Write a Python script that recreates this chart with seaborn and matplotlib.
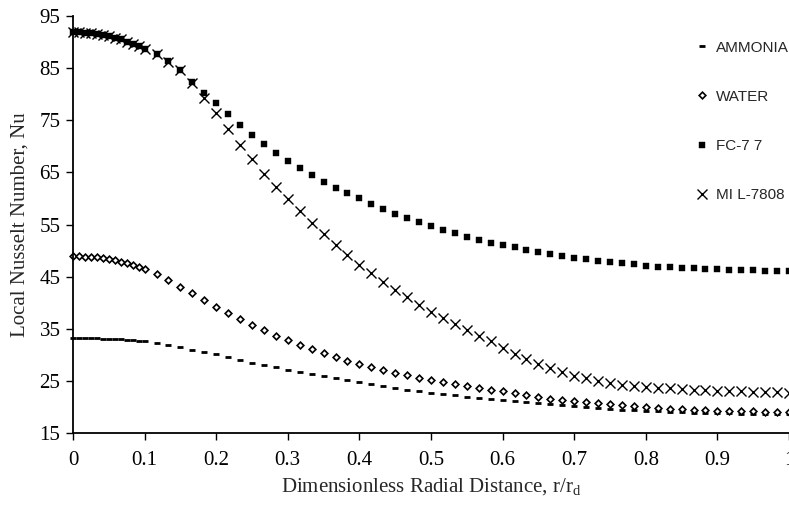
import numpy as np
import pandas as pd
import matplotlib
matplotlib.use("Agg")
import matplotlib.pyplot as plt
import seaborn as sns

# ---- data ----
x_dense = [0.0, 0.0083, 0.0167, 0.025, 0.0333, 0.0417, 0.05, 0.0583, 0.0667, 0.075, 0.0833, 0.0917]
x_sparse = [0.1, 0.1167, 0.1333, 0.15, 0.1667, 0.1833, 0.2, 0.2167, 0.2333, 0.25,
            0.2667, 0.2833, 0.3, 0.3167, 0.3333, 0.35, 0.3667, 0.3833, 0.4, 0.4167,
            0.4333, 0.45, 0.4667, 0.4833, 0.5, 0.5167, 0.5333, 0.55, 0.5667, 0.5833,
            0.6, 0.6167, 0.6333, 0.65, 0.6667, 0.6833, 0.7, 0.7167, 0.7333, 0.75,
            0.7667, 0.7833, 0.8, 0.8167, 0.8333, 0.85, 0.8667, 0.8833, 0.9, 0.9167,
            0.9333, 0.95, 0.9667, 0.9833, 1.0]
r_rd = x_dense + x_sparse

ammonia = [33.2, 33.2, 33.2, 33.2, 33.15, 33.1, 33.1, 33.0, 33.0, 32.9, 32.8, 32.7,
           32.6, 32.2, 31.9, 31.5, 31.0, 30.5, 30.1, 29.6, 29.0, 28.5,
           28.0, 27.6, 27.1, 26.7, 26.3, 25.9, 25.5, 25.2, 24.8, 24.4,
           24.0, 23.6, 23.3, 23.0, 22.7, 22.5, 22.2, 21.9, 21.7, 21.5,
           21.3, 21.1, 20.9, 20.7, 20.5, 20.3, 20.1, 19.9, 19.8, 19.6,
           19.5, 19.4, 19.3, 19.2, 19.1, 19.0, 18.9, 18.9, 18.8, 18.8,
           18.7, 18.7, 18.7, 18.6, 18.6]
water = [48.9, 48.9, 48.85, 48.8, 48.7, 48.6, 48.4, 48.2, 47.9, 47.6, 47.3, 46.9,
         46.5, 45.5, 44.3, 43.1, 41.8, 40.5, 39.2, 38.0, 36.9, 35.8,
         34.7, 33.7, 32.8, 31.9, 31.1, 30.3, 29.6, 28.9, 28.3, 27.7,
         27.1, 26.6, 26.1, 25.6, 25.2, 24.8, 24.4, 24.0, 23.6, 23.3,
         23.0, 22.6, 22.2, 21.9, 21.6, 21.3, 21.1, 20.9, 20.7, 20.5,
         20.3, 20.1, 20.0, 19.8, 19.7, 19.6, 19.5, 19.4, 19.3, 19.3,
         19.2, 19.2, 19.1, 19.1, 19.0]
fc77 = [91.9, 91.88, 91.8, 91.7, 91.5, 91.3, 91.1, 90.8, 90.5, 90.1, 89.7, 89.2,
        88.7, 87.7, 86.3, 84.7, 82.4, 80.2, 78.3, 76.2, 74.1, 72.2,
        70.4, 68.7, 67.2, 65.8, 64.5, 63.2, 62.0, 61.0, 60.0, 58.9,
        58.0, 57.1, 56.3, 55.5, 54.7, 54.0, 53.3, 52.6, 52.0, 51.5,
        51.0, 50.6, 50.1, 49.7, 49.3, 48.9, 48.6, 48.3, 48.0, 47.8,
        47.6, 47.4, 47.1, 46.9, 46.8, 46.7, 46.6, 46.5, 46.4, 46.3,
        46.3, 46.2, 46.1, 46.1, 46.0]
mil7808 = [91.9, 91.88, 91.8, 91.7, 91.5, 91.3, 91.1, 90.8, 90.5, 90.1, 89.7, 89.2,
           88.7, 87.7, 86.2, 84.6, 82.2, 79.3, 76.4, 73.3, 70.3, 67.5,
           64.7, 62.2, 59.8, 57.5, 55.3, 53.2, 51.1, 49.1, 47.3, 45.6,
           44.0, 42.5, 41.0, 39.6, 38.3, 37.1, 35.9, 34.8, 33.7, 32.6,
           31.3, 30.2, 29.2, 28.3, 27.5, 26.7, 26.0, 25.5, 25.0, 24.6,
           24.3, 24.0, 23.8, 23.7, 23.6, 23.4, 23.3, 23.2, 23.1, 23.0,
           23.0, 22.9, 22.8, 22.8, 22.7]

series_names = ["AMMONIA", "WATER", "FC-7 7", "MI L-7808"]
x_ticks = [0, 0.1, 0.2, 0.3, 0.4, 0.5, 0.6, 0.7, 0.8, 0.9, 1.0]
x_tick_labels = ["0", "0.1", "0.2", "0.3", "0.4", "0.5", "0.6", "0.7", "0.8", "0.9", "1"]
y_ticks = [15, 25, 35, 45, 55, 65, 75, 85, 95]

# ---- style ----
sns.set_style("white")
plt.rcParams["font.family"] = ["Liberation Serif", "DejaVu Serif"]
plt.rcParams["mathtext.fontset"] = "custom"
plt.rcParams["mathtext.rm"] = "Liberation Serif"

fig = plt.figure(figsize=(7.89, 5.08), dpi=100)
ax = fig.add_axes([73 / 789, 75 / 508, 716 / 789, 417 / 508])

styles = [
    dict(marker="_", markersize=5, markeredgewidth=2.0, color="black",
         markeredgecolor="black"),
    dict(marker="D", markersize=3.4, markeredgewidth=1.2, markerfacecolor="white",
         markeredgecolor="black", color="black"),
    dict(marker="s", markersize=4.5, markeredgewidth=0.3, color="black",
         markeredgecolor="black"),
    dict(marker="x", markersize=7.5, markeredgewidth=1.0, color="black",
         markeredgecolor="black"),
]

all_vals = [ammonia, water, fc77, mil7808]
for name, vals, st in zip(series_names, all_vals, styles):
    df = pd.DataFrame({"r": r_rd, "Nu": vals})
    sns.lineplot(data=df, x="r", y="Nu", ax=ax, estimator=None, sort=False,
                 linestyle="none", label=name, clip_on=False, **st)

ax.set_xlim(0, 1)
ax.set_ylim(15, 95)
ax.set_xticks(x_ticks)
ax.set_xticklabels(x_tick_labels)
ax.set_yticks(y_ticks)

for s in ["top", "right"]:
    ax.spines[s].set_visible(False)
for s in ["left", "bottom"]:
    ax.spines[s].set_color("black")
    ax.spines[s].set_linewidth(1.3)

ax.tick_params(axis="both", direction="out", length=5, width=1, colors="black",
               labelsize=15, pad=4, bottom=True, left=True)
ax.tick_params(axis="x", pad=8)

ax.set_xlabel(r"Dimensionless Radial Distance, r/r$_\mathregular{d}$", fontsize=15, labelpad=5)
ax.set_ylabel("Local Nusselt Number, Nu", fontsize=15, labelpad=7)

leg = ax.legend(loc="upper right", bbox_to_anchor=(1.012, 0.963), frameon=False,
                prop={"family": "Liberation Sans", "size": 11},
                handlelength=0.8, handletextpad=0.5, labelspacing=2.3,
                borderaxespad=0.2, numpoints=1)

fig.savefig("out.png", dpi=100)
